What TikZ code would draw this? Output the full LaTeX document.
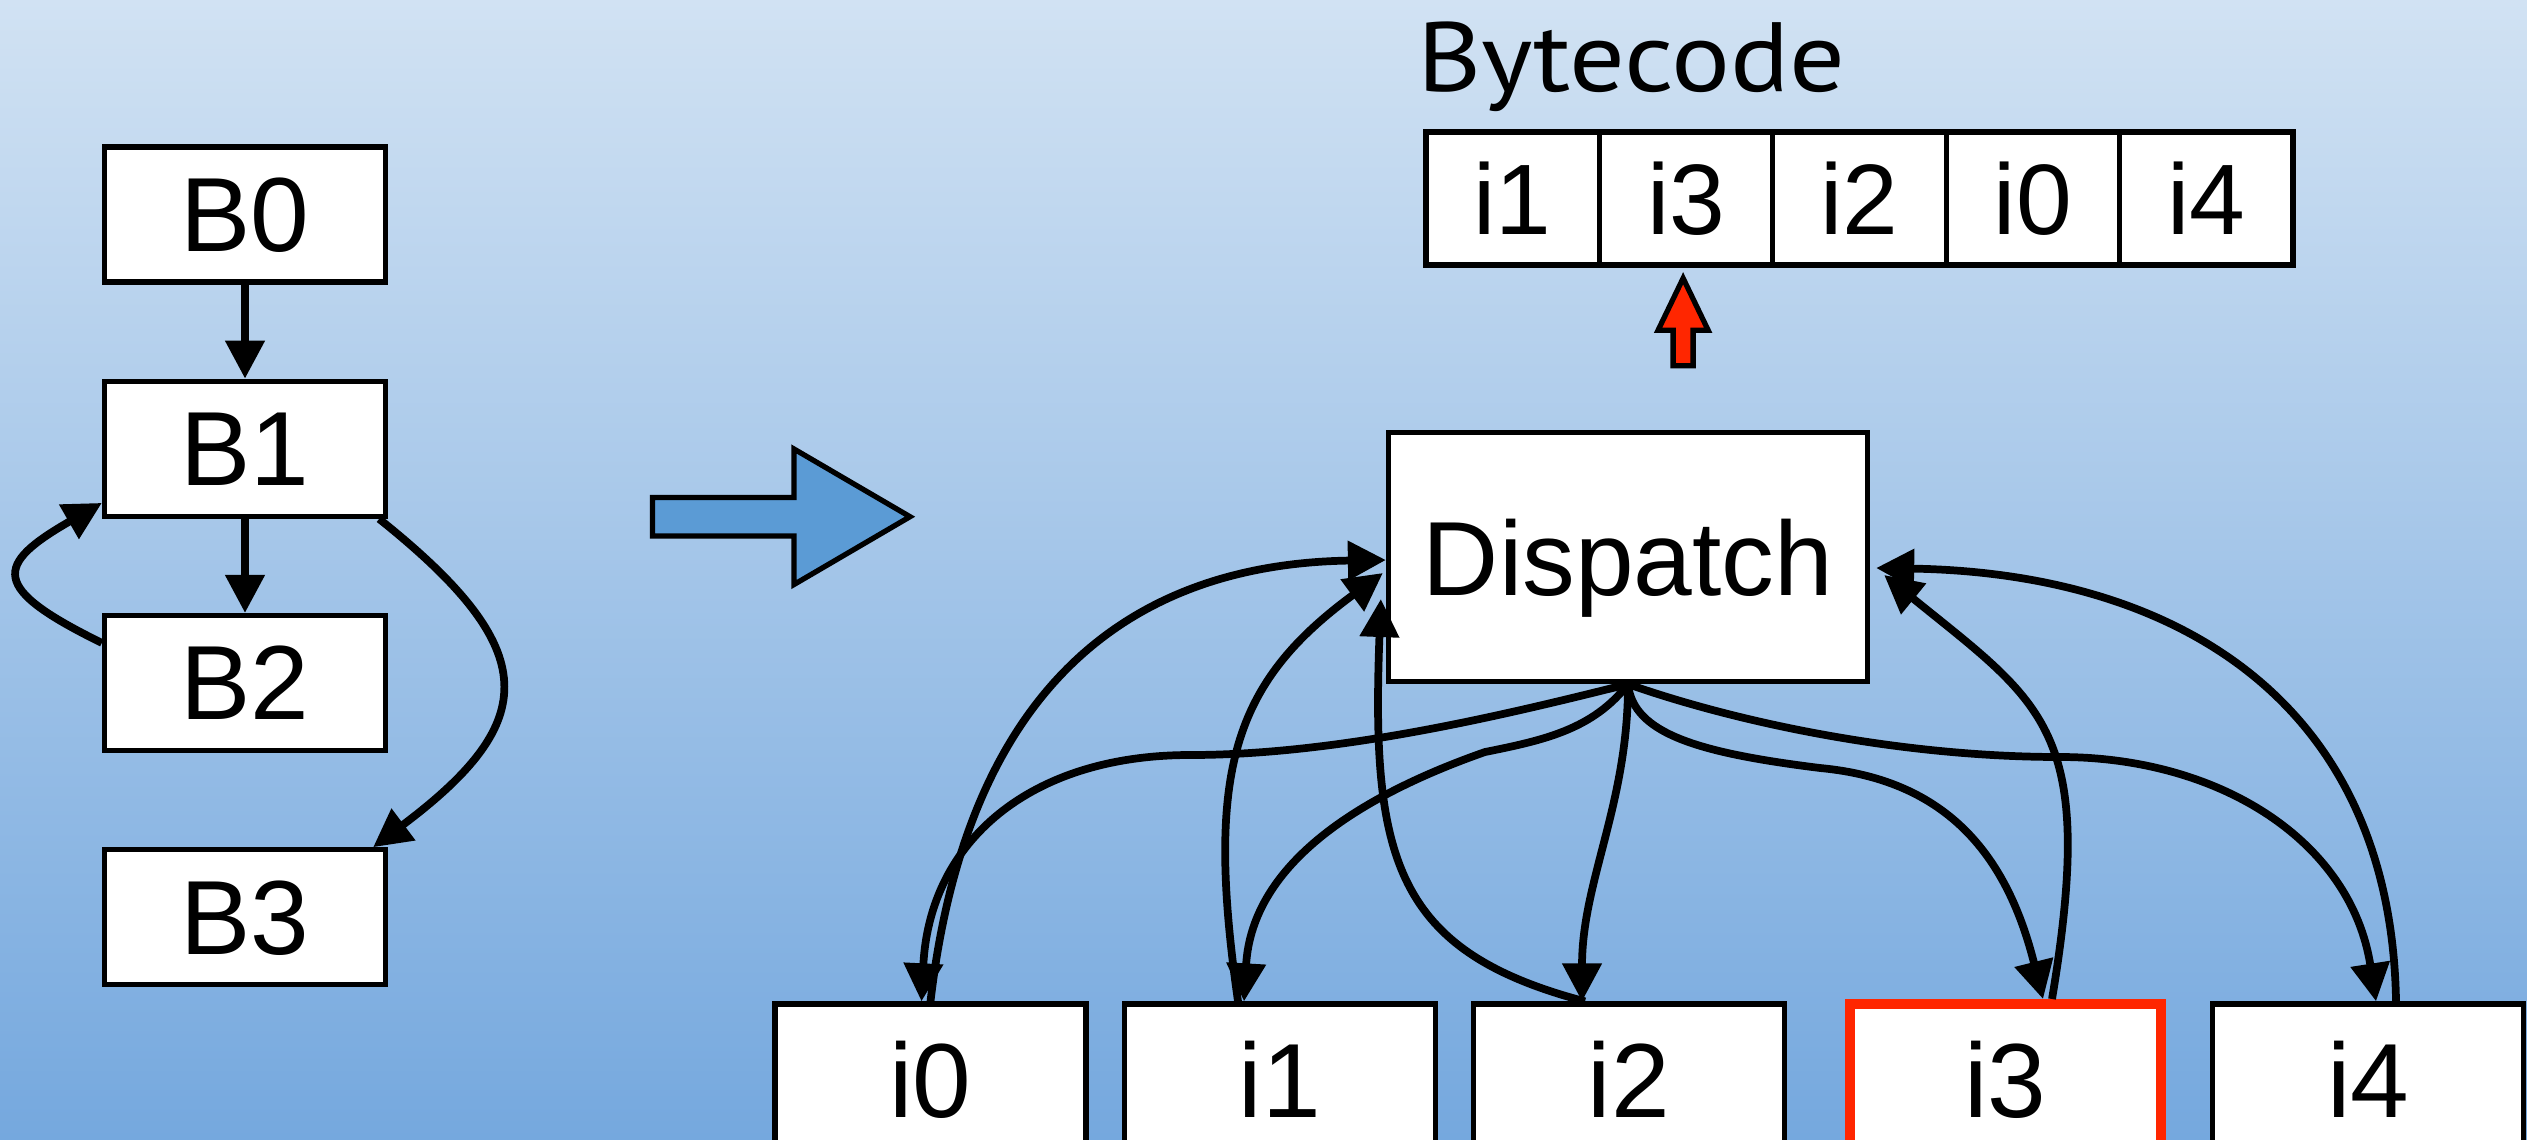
\documentclass[tikz,border=0pt]{standalone}
\usepackage{fontspec}
\setmainfont{Liberation Sans}
\newfontfamily\titlefont[FakeStretch=1.12]{PT Sans}
\usepackage{tikz}
\usetikzlibrary{arrows.meta,positioning}

\definecolor{bgtop}{RGB}{209,226,243}
\definecolor{bgbottom}{RGB}{117,168,222}
\definecolor{arrowblue}{RGB}{91,155,213}
\definecolor{markred}{RGB}{255,38,0}

\begin{document}
\begin{tikzpicture}[x=1cm,y=1cm,
  blk/.style={draw=black,line width=1.5pt,fill=white,inner sep=0pt,text depth=0pt,
    font=\fontsize{30}{36}\selectfont},
  bblk/.style={blk,minimum width=2.81cm,minimum height=1.35cm},
  iblk/.style={blk,minimum width=3.11cm,minimum height=1.5cm},
  cell/.style={blk,minimum width=1.734cm,minimum height=1.33cm,font=\fontsize{28.5}{34}\selectfont},
  flow/.style={line width=2.2pt,-{Triangle[length=3.8mm,width=3.8mm]}},
  ]
  \useasboundingbox (0,0) rectangle (25.27,11.39);
  \clip (0,0) rectangle (25.27,11.39);
  \shade[top color=bgtop,bottom color=bgbottom] (0,0) rectangle (25.27,11.39); % 背景：上が明るい青のグラデーション

  % 左側：基本ブロックの制御フローグラフ
  \node[bblk] (B0) at (2.45,9.245) {B0};
  \node[bblk,below=0.94cm of B0] (B1) {B1};
  \node[bblk,below=0.94cm of B1] (B2) {B2};
  \node[bblk,below=0.94cm of B2] (B3) {B3};

  \draw[flow] (B0) -- (B1);
  \draw[flow] (B1) -- (B2);
  % B2 から B1 へ戻るループ（左側を回る）
  \draw[flow] ([yshift=-3mm]B2.north west)
    .. controls +(-1.12,0.55) and +(-1.08,-0.62) .. ([yshift=1.6mm]B1.south west);
  % B1 から B3 へ飛ぶ枝（右側を回る）
  \draw[flow] ([xshift=-0.9mm]B1.south east)
    .. controls +(1.64,-1.31) and +(1.68,1.26) .. ([xshift=-1.5mm]B3.north east);

  % 中央の変換を表す太い矢印
  \draw[line width=1.5pt,fill=arrowblue]
    (6.525,6.03) -- (7.94,6.03) -- (7.94,5.545) -- (9.10,6.223)
    -- (7.94,6.90) -- (7.94,6.415) -- (6.525,6.415) -- cycle;

  % 右上：バイトコード列
  \foreach \lab [count=\k from 0] in {i1,i3,i2,i0,i4}
    \node[cell] (cell\k) at (15.127+1.734*\k,9.405) {\lab};
  \node[anchor=base west,inner sep=0pt,font=\titlefont\fontsize{28}{34}\selectfont]
    (bclabel) at ([shift={(-0.065,0.375)}]cell0.north west) {Bytecode};

  % 現在の命令を指す赤い矢印
  \draw[line width=1.5pt,fill=markred,shift={([xshift=-0.3mm]cell1.south)}]
    (0,-0.106) -- (0.25,-0.625) -- (0.10,-0.625) -- (0.10,-0.98)
    -- (-0.10,-0.98) -- (-0.10,-0.625) -- (-0.25,-0.625) -- cycle;

  % ディスパッチと各命令の処理ブロック
  \node[blk,minimum width=4.79cm,minimum height=2.49cm] (disp) at (16.28,5.82) {Dispatch};
  \foreach \x/\lab in {9.305/i0,12.80/i1,16.29/i2,23.68/i4}
    \node[iblk] (\lab) at (\x,0.6) {\lab};
  \node[iblk,draw=markred,line width=1mm] (i3) at (20.05,0.6) {i3}; % 実行中の命令は赤枠

  % 分岐の曲がり目
  \coordinate (bend0) at (11.9,3.84);
  \coordinate (bend1) at (14.85,3.87);
  \coordinate (bend3) at (18.2,3.71);
  \coordinate (bend4) at (20.6,3.82);

  % Dispatch から各命令へ
  \draw[flow] (disp.south) .. controls +(-1.2,-0.3) and +(1.5,0) .. (bend0)
    .. controls +(-1.6,0) and +(0.08,1.6) .. ([xshift=-0.9mm]i0.north);
  \draw[flow] (disp.south) .. controls +(-0.35,-0.45) and +(0.6,0.12) .. (bend1)
    .. controls +(-1.2,-0.42) and +(0.08,1.4) .. ([xshift=-3.6mm]i1.north);
  \draw[flow] (disp.south) .. controls +(0,-1.2) and +(0,1.2) .. ([xshift=-4.7mm]i2.north);
  \draw[flow] (disp.south) .. controls +(0.05,-0.5) and +(-1.2,0.15) .. (bend3)
    .. controls +(1.3,-0.12) and +(-0.35,1.4) .. ([xshift=3.8mm]i3.north);
  \draw[flow] (disp.south) .. controls +(1.2,-0.42) and +(-1.5,0) .. (bend4)
    .. controls +(1.6,0) and +(-0.25,1.6) .. ([xshift=0.8mm]i4.north);

  % 各命令から Dispatch へ戻る
  \draw[flow] (i0.north) .. controls +(0.35,3.03) and +(-2.66,-0.04) .. ([yshift=-0.3mm]disp.west);
  \draw[flow] ([xshift=-4.2mm]i1.north) .. controls +(-0.33,2.3) and +(-1.5,-1.1)
    .. ([shift={(-0.3mm,-1.6mm)}]disp.west);
  \draw[flow] ([xshift=-4.4mm]i2.north) .. controls +(-1.9,0.5) and +(-0.1,-2.6)
    .. ([shift={(-0.5mm,-4.2mm)}]disp.west);
  \draw[flow] ([xshift=4.7mm]i3.north) .. controls +(0.45,2.7) and +(1.6,-1.3)
    .. ([shift={(1.4mm,-1.8mm)}]disp.east);
  \draw[flow] ([xshift=2.8mm]i4.north) .. controls +(-0.05,3.0) and +(3.0,-0.05)
    .. ([shift={(0.6mm,-1.1mm)}]disp.east);
\end{tikzpicture}
\end{document}
